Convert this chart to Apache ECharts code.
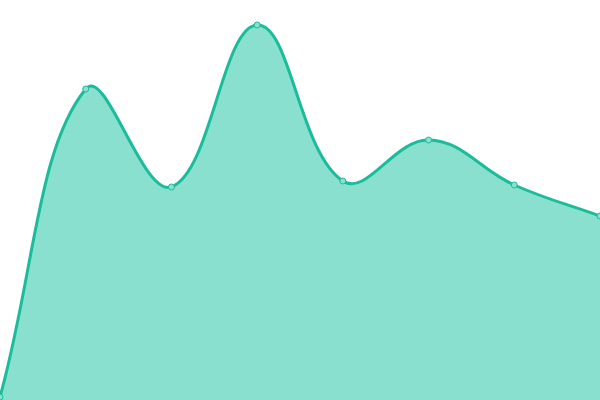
<!DOCTYPE html>
<html>
<head>
<meta charset="utf-8">
<script src="https://cdn.jsdelivr.net/npm/echarts@6/dist/echarts.min.js"></script>
<style>html,body{margin:0;padding:0;background:#fff}#c{width:600px;height:400px}</style>
</head>
<body>
<div id="c"></div>
<script>
const categories = ['A', 'B', 'C', 'D', 'E', 'F', 'G', 'H'];
const values = [3, 311, 213, 375, 219, 260, 215, 184];

const TENSION = 0.4;

function renderCurve(params, api) {
  if (params.dataIndex !== 0) return null;
  const n = params.dataInsideLength;
  const pts = [];
  for (let j = 0; j < n; j++) {
    pts.push(api.coord([api.value(0, j), api.value(1, j)]));
  }
  const cs = params.coordSys;
  const clampX = v => Math.max(cs.x, Math.min(cs.x + cs.width, v));
  const clampY = v => Math.max(cs.y, Math.min(cs.y + cs.height, v));
  const cps = pts.map((cur, i) => {
    const prev = pts[i - 1] || cur;
    const next = pts[i + 1] || cur;
    const d01 = Math.hypot(cur[0] - prev[0], cur[1] - prev[1]);
    const d12 = Math.hypot(next[0] - cur[0], next[1] - cur[1]);
    let s01 = d01 / (d01 + d12), s12 = d12 / (d01 + d12);
    if (isNaN(s01)) s01 = 0;
    if (isNaN(s12)) s12 = 0;
    const fa = TENSION * s01, fb = TENSION * s12;
    return {
      p: [clampX(cur[0] - fa * (next[0] - prev[0])), clampY(cur[1] - fa * (next[1] - prev[1]))],
      n: [clampX(cur[0] + fb * (next[0] - prev[0])), clampY(cur[1] + fb * (next[1] - prev[1]))]
    };
  });
  let line = 'M' + pts[0][0] + ' ' + pts[0][1];
  for (let i = 1; i < n; i++) {
    const a = cps[i - 1].n, b = cps[i].p, c = pts[i];
    line += ' C' + a[0] + ' ' + a[1] + ' ' + b[0] + ' ' + b[1] + ' ' + c[0] + ' ' + c[1];
  }
  const base = api.coord([api.value(0, 0), 0])[1];
  const area = line + ' L' + pts[n - 1][0] + ' ' + base + ' L' + pts[0][0] + ' ' + base + ' Z';
  return {
    type: 'group',
    children: [
      { type: 'path', shape: { pathData: area }, style: { fill: '#8ae0cf', stroke: null } },
      { type: 'path', shape: { pathData: line }, style: { fill: 'none', stroke: '#1abc9c', lineWidth: 3 } }
    ]
  };
}

const chart = echarts.init(document.getElementById('c'));
chart.setOption({
  animation: false,
  grid: { left: 0, right: 0, top: 0, bottom: 0 },
  xAxis: { type: 'category', data: categories, boundaryGap: false, show: false },
  yAxis: { type: 'value', min: 0, max: 400, show: false },
  series: [{
    type: 'custom',
    renderItem: renderCurve,
    data: values.map((v, i) => [i, v]),
    encode: { x: 0, y: 1 },
    clip: false,
    z: 1
  }, {
    type: 'line',
    data: values,
    symbol: 'circle',
    symbolSize: 6,
    lineStyle: { opacity: 0 },
    itemStyle: { color: '#8ae0cf', borderColor: '#1abc9c', borderWidth: 1 },
    z: 3
  }]
});
</script>
</body>
</html>
